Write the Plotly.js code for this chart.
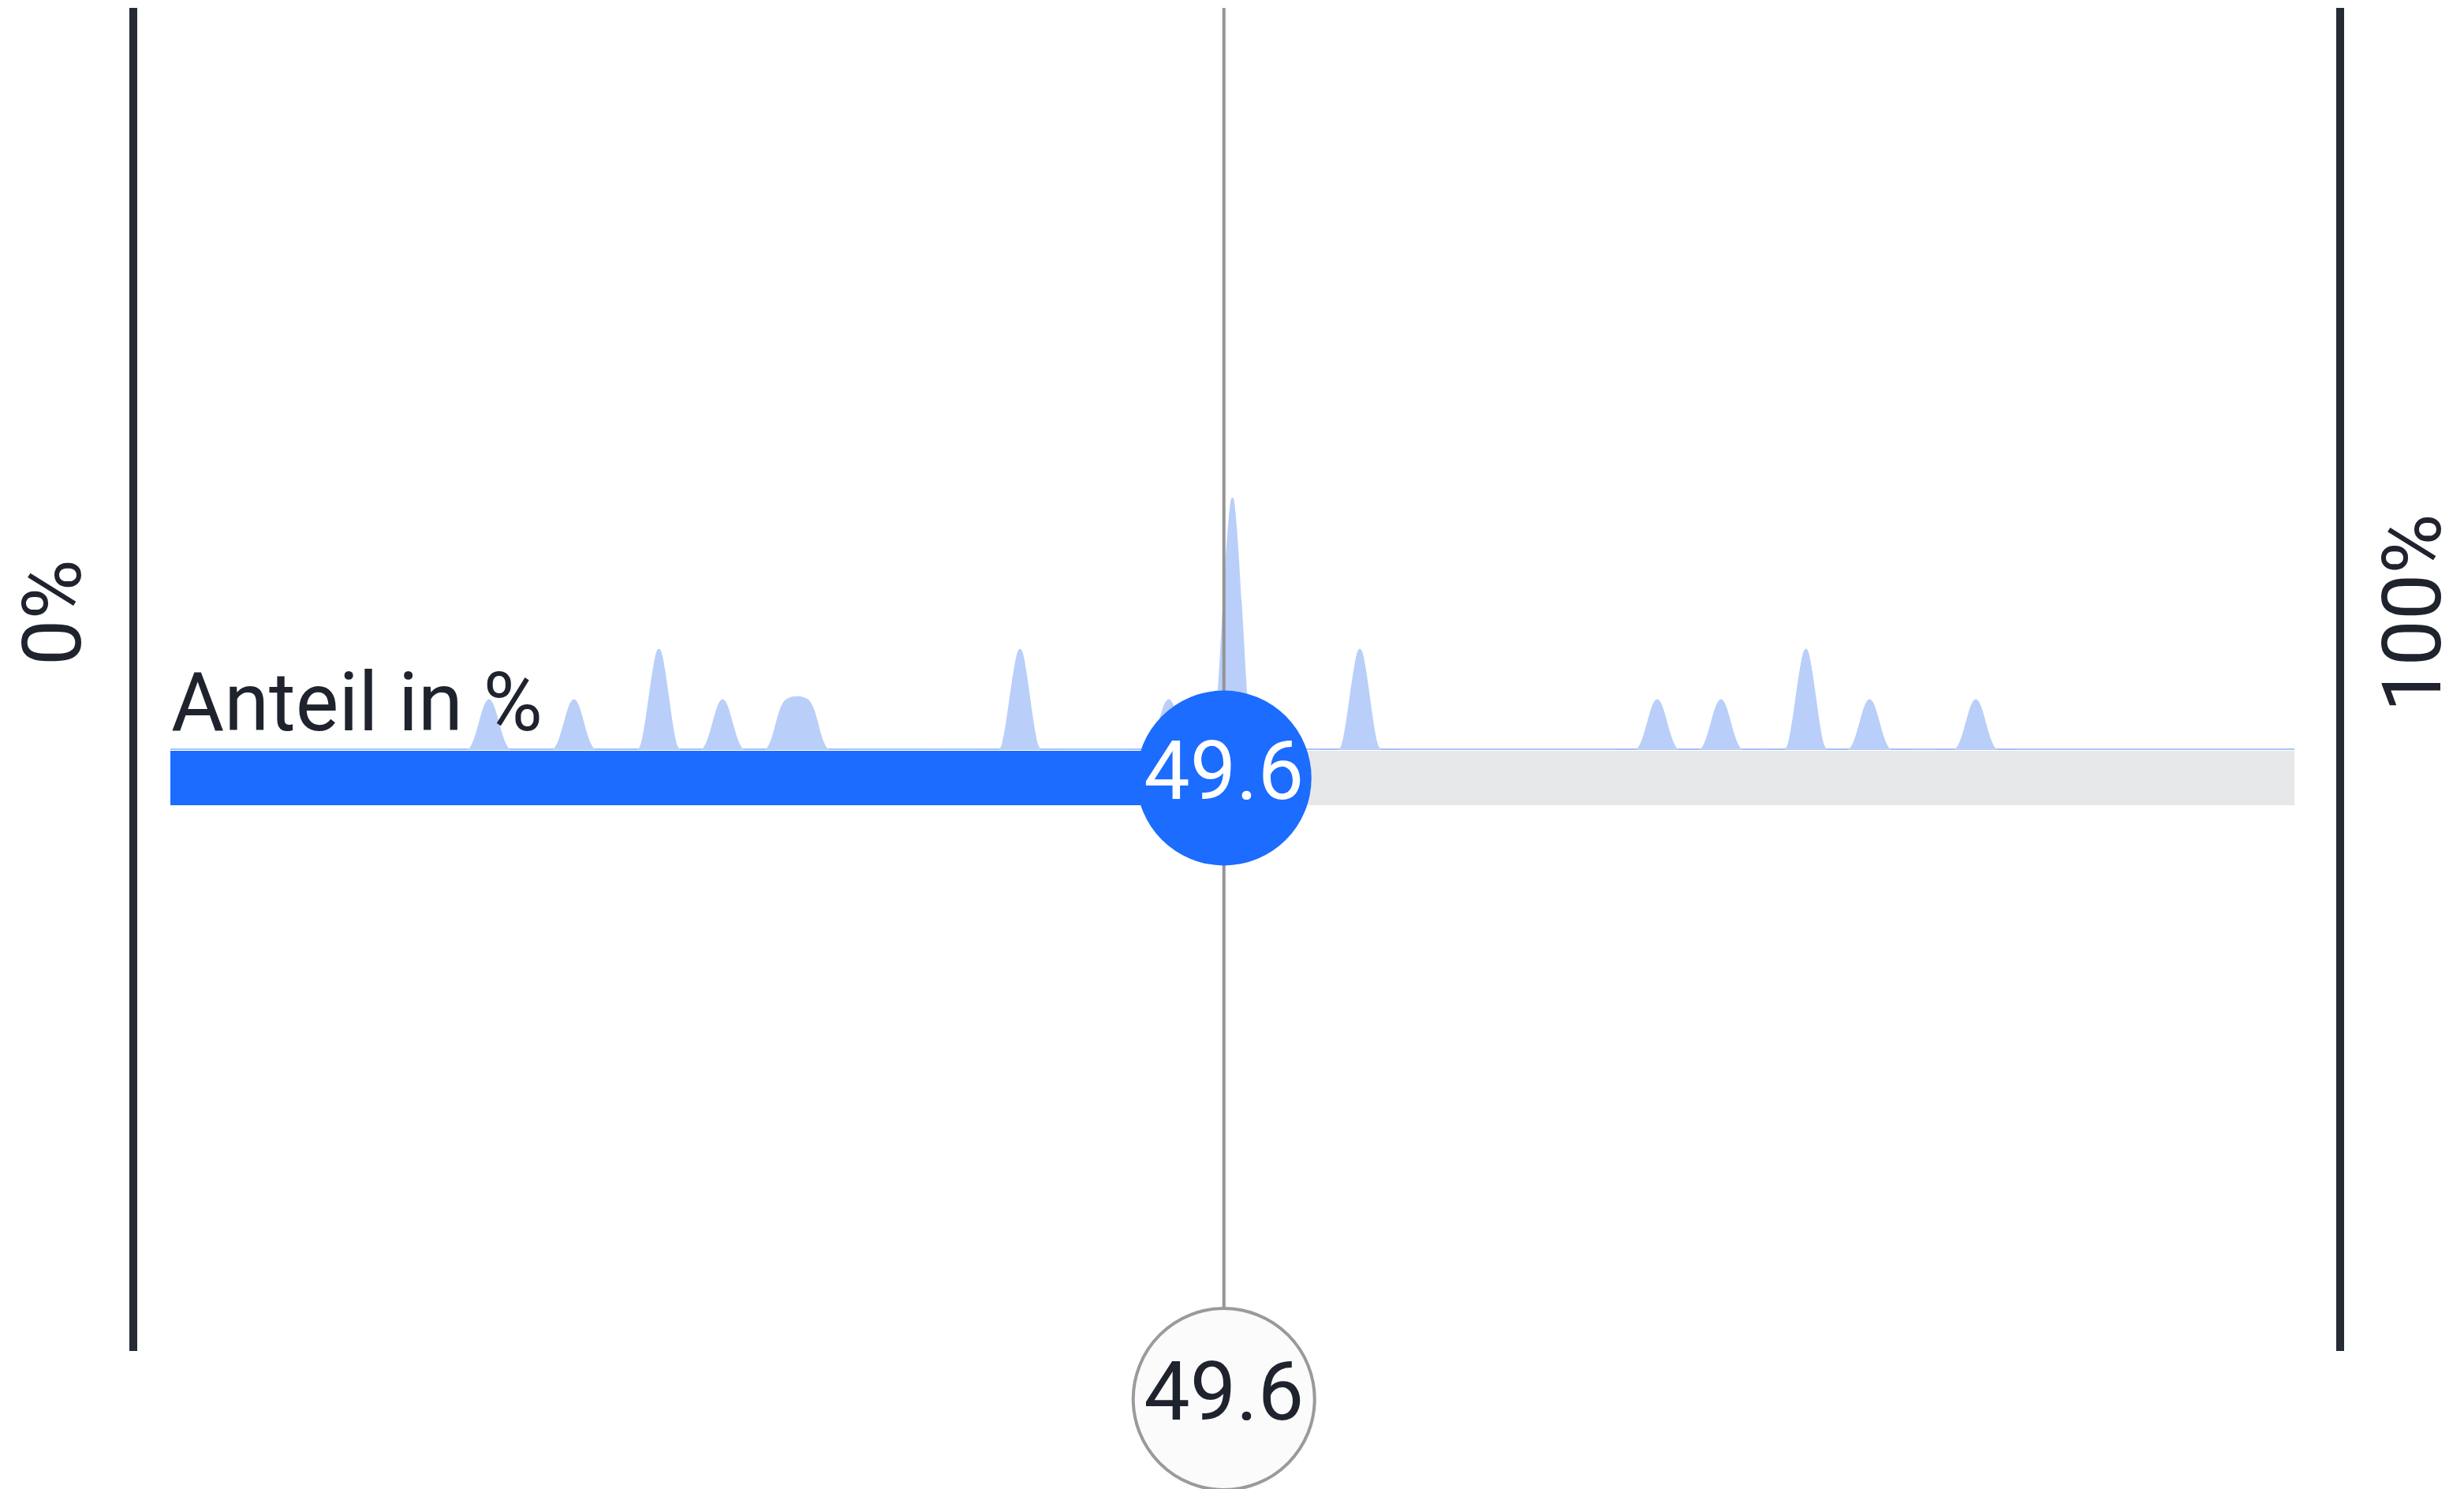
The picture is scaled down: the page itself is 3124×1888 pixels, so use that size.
<!DOCTYPE html>
<html>
<head>
<meta charset="utf-8">
<script src="https://cdn.plot.ly/plotly-3.0.1.min.js"></script>
<style>
  html, body { margin: 0; padding: 0; background: #ffffff; }
  #chart { width: 3124px; height: 1888px; }
</style>
</head>
<body>
<div id="chart"></div>
<script>
// ---- data ----
const bins = [
  0,1,2,3,4,5,6,7,8,9,
  10,11,12,13,14,15,16,17,18,19,
  20,21,22,23,24,25,26,27,28,29,
  30,31,32,33,34,35,36,37,38,39,
  40,41,42,43,44,45,46,47,48,49,
  50,51,52,53,54,55,56,57,58,59,
  60,61,62,63,64,65,66,67,68,69,
  70,71,72,73,74,75,76,77,78,79,
  80,81,82,83,84,85,86,87,88,89,
  90,91,92,93,94,95,96,97,98,99,
  100
];
const counts = [
  0,0,0,0,0,0,0,0,0,0,
  0,0,0,0,0,1,0,0,0,1,
  0,0,0,2,0,0,1,0,0,1,
  1,0,0,0,0,0,0,0,0,0,
  2,0,0,0,0,0,0,1,0,0,
  5,0,0,0,0,0,2,0,0,0,
  0,0,0,0,0,0,0,0,0,0,
  1,0,0,1,0,0,0,2,0,0,
  1,0,0,0,0,1,0,0,0,0,
  0,0,0,0,0,0,0,0,0,0,
  0
];
const scaleMin = 0;
const scaleMax = 100;
const shareValue = 49.6;
const shareLabel = "49.6";
const measureLabel = "Anteil in %";
const minLabel = "0%";
const maxLabel = "100%";

// ---- style / layout constants (pixels of the 3124 x 1888 page) ----
const W = 3124, H = 1888;
const plotLeft = 216, plotRight = 2909;
const baseline = 951;          // density baseline
const pxPerCount = 64;
const barCenter = 986.5, barThick = 69;
const ringY = 1774;
const FONT = "Roboto, 'Open Sans', sans-serif";
const BLUE = "#1b6cff";
const DARK = "#1f232d";
const DENS_FILL = "#b9cff9";
const DENS_LINE = "#a6c0f4";

// smooth outline of the distribution (cubic segments through every bin value,
// flat tangents at each bin, in data coordinates of x / y)
function densityPath(xs, ys) {
  let p = `M${xs[0]},0 L${xs[0]},${ys[0]}`;
  for (let i = 0; i < xs.length - 1; i++) {
    const dx = (xs[i + 1] - xs[i]) / 3;
    p += ` C${xs[i] + dx},${ys[i]} ${xs[i + 1] - dx},${ys[i + 1]} ${xs[i + 1]},${ys[i + 1]}`;
  }
  p += ` L${xs[xs.length - 1]},0 Z`;
  return p;
}

const traces = [
  {
    type: "scatter", x: bins, y: counts, xaxis: "x", yaxis: "y",
    mode: "lines", fill: "tozeroy",
    fillcolor: DENS_FILL,
    line: { shape: "spline", smoothing: 1, color: DENS_FILL, width: 1 },
    hoverinfo: "skip"
  },
  {
    type: "bar", orientation: "h", x: [scaleMax], y: [barCenter], width: [barThick],
    xaxis: "x", yaxis: "y2", marker: { color: "#e6e7e9", line: { width: 0 } }, hoverinfo: "skip"
  },
  {
    type: "bar", orientation: "h", x: [shareValue], y: [barCenter], width: [barThick],
    xaxis: "x", yaxis: "y2", marker: { color: BLUE, line: { width: 0 } }, hoverinfo: "skip"
  },
  {
    type: "scatter", x: [shareValue, shareValue], y: [10, ringY - 115],
    xaxis: "x", yaxis: "y2", mode: "lines",
    line: { color: "#949494", width: 4 }, hoverinfo: "skip", cliponaxis: false
  },
  {
    type: "scatter", x: [shareValue, shareValue], y: [barCenter, ringY],
    xaxis: "x", yaxis: "y2", mode: "markers+text",
    marker: {
      size: [222, 230], color: [BLUE, "#fbfbfb"], opacity: 1,
      line: { width: [0, 4], color: [BLUE, "#9a9a9a"] }
    },
    text: [shareLabel, shareLabel], textposition: "middle center",
    textfont: { family: FONT, size: 104, color: ["#ffffff", DARK] },
    cliponaxis: false, hoverinfo: "skip"
  }
];

const layout = {
  width: W, height: H,
  margin: { l: 0, r: 0, t: 0, b: 0, pad: 0 },
  paper_bgcolor: "#ffffff", plot_bgcolor: "rgba(0,0,0,0)",
  showlegend: false, hovermode: false, barmode: "overlay",
  xaxis: {
    domain: [plotLeft / W, plotRight / W], range: [scaleMin, scaleMax],
    visible: false, showgrid: false, zeroline: false, fixedrange: true
  },
  yaxis: {
    domain: [1 - baseline / H, 1], range: [0, baseline / pxPerCount],
    visible: false, showgrid: false, zeroline: false, fixedrange: true
  },
  yaxis2: {
    domain: [0, 1], range: [H, 0], anchor: "x",
    visible: false, showgrid: false, zeroline: false, fixedrange: true
  },
  shapes: [
    { type: "line", xref: "paper", yref: "paper", x0: 169 / W, x1: 169 / W, y0: 1 - 10 / H, y1: 1 - 1713 / H,
      line: { color: "#272b35", width: 10 }, layer: "below" },
    { type: "line", xref: "paper", yref: "paper", x0: 2967 / W, x1: 2967 / W, y0: 1 - 10 / H, y1: 1 - 1713 / H,
      line: { color: "#272b35", width: 10 }, layer: "below" },
    // smooth distribution outline built from bins / counts
    { type: "path", xref: "x", yref: "y", path: densityPath(bins, counts),
      fillcolor: DENS_FILL, line: { width: 0 }, layer: "below" },
    // baseline of the distribution curve
    { type: "line", xref: "x", yref: "y", x0: scaleMin, x1: scaleMax, y0: 0, y1: 0,
      line: { color: DENS_LINE, width: 4 }, layer: "below" }
  ],
  annotations: [
    { text: minLabel, xref: "paper", yref: "paper", x: 66 / W, y: 1 - 777 / H,
      xanchor: "center", yanchor: "middle", textangle: -90, showarrow: false,
      font: { family: FONT, size: 104, color: DARK } },
    { text: maxLabel, xref: "paper", yref: "paper", x: 3058 / W, y: 1 - 777 / H,
      xanchor: "center", yanchor: "middle", textangle: -90, showarrow: false,
      font: { family: FONT, size: 104, color: DARK } },
    { text: measureLabel, xref: "x", yref: "y2", x: scaleMin, y: 890,
      xanchor: "left", yanchor: "middle", showarrow: false, borderpad: 0,
      font: { family: FONT, size: 103, color: DARK } }
  ]
};

Plotly.newPlot("chart", traces, layout, { staticPlot: true, displayModeBar: false });
</script>
</body>
</html>
